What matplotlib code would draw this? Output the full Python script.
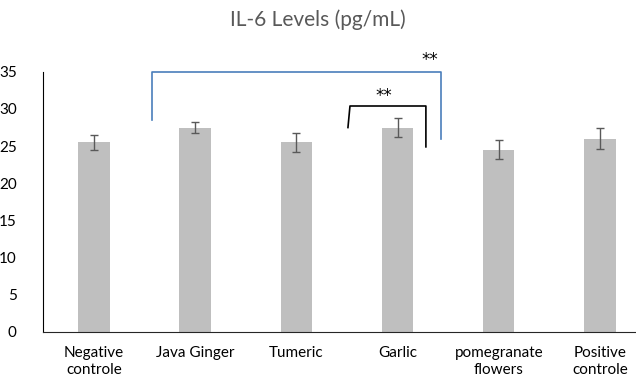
import matplotlib.pyplot as plt
import numpy as np

plt.rcParams['font.family'] = ['Lato', 'DejaVu Sans']

# data
groups = ["Negative\ncontrole", "Java Ginger", "Tumeric", "Garlic",
          "pomegranate\nflowers", "Positive\ncontrole"]
il6 = [25.5, 27.5, 25.5, 27.5, 24.5, 26.0]
il6_err = [1.0, 0.8, 1.3, 1.3, 1.3, 1.4]

fig = plt.figure(figsize=(6.36, 3.78), dpi=100)
ax = fig.add_axes([0.068, 0.122, 0.955, 0.688])

x = np.arange(len(groups))
ax.bar(x, il6, width=0.31, color="#bfbfbf", zorder=2)
ax.errorbar(x, il6, yerr=il6_err, fmt="none", ecolor="#595959",
            elinewidth=1, capsize=3, capthick=1, zorder=3)

ax.set_xlim(-0.5, 5.5)
ax.set_ylim(0, 35)
ax.set_yticks(range(0, 36, 5))
ax.set_xticks(x)
ax.set_xticklabels(groups, fontsize=11, linespacing=1.25)
ax.tick_params(axis="both", length=0, labelsize=11, colors="black")
ax.tick_params(axis="x", pad=10)
ax.tick_params(axis="y", pad=19)
for side in ["top", "right"]:
    ax.spines[side].set_visible(False)
ax.spines["left"].set_color("black")
ax.spines["bottom"].set_color("#262626")

# significance brackets
ax.plot([0.57, 0.57, 3.43, 3.43], [28.5, 35.0, 35.0, 26.0],
        color="#4a7ebb", lw=1.2, clip_on=False, zorder=4)
ax.text(3.32, 36.6, "**", ha="center", va="center", fontsize=12,
        family="DejaVu Sans", clip_on=False)
ax.plot([2.51, 2.53, 3.28, 3.28], [27.5, 30.4, 30.4, 24.9],
        color="black", lw=1.2, clip_on=False, zorder=4)
ax.text(2.86, 31.8, "**", ha="center", va="center", fontsize=12,
        family="DejaVu Sans")

fig.suptitle("IL-6 Levels (pg/mL)", x=0.5, y=0.975, fontsize=15, color="#595959")

fig.savefig("out.png", dpi=100)
